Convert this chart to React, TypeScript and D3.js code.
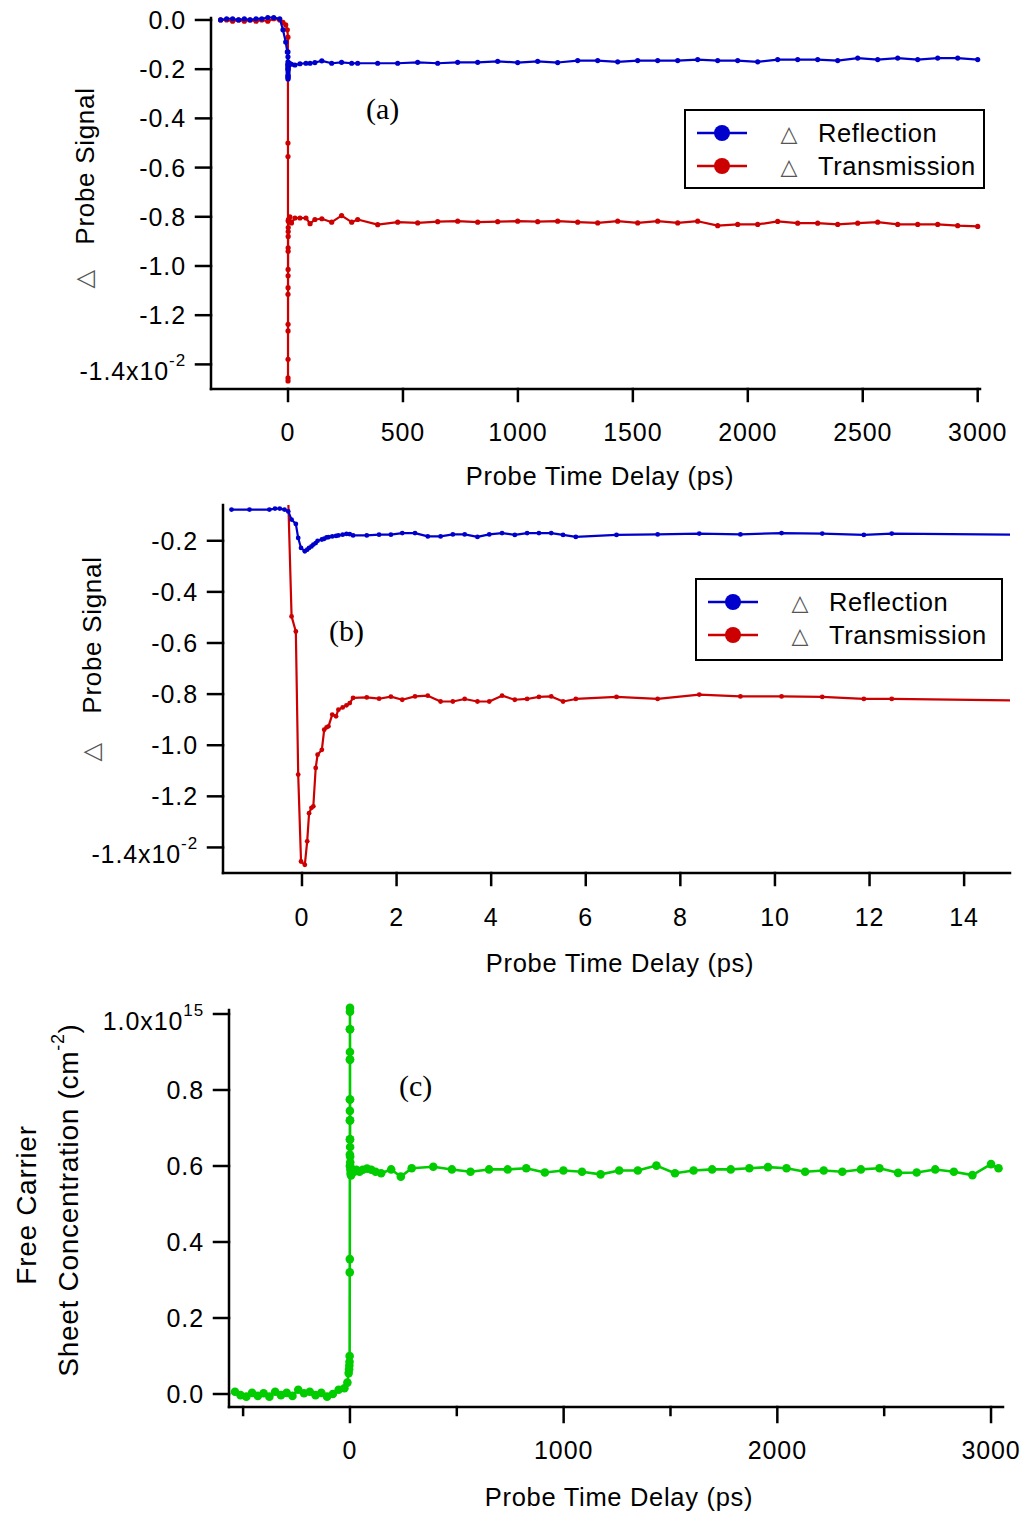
import React from "react";
import * as d3 from "d3";

// ---- shared long-delay grid (ps) (a) and (c)
const longTime = [390, 477, 564, 651, 738, 825, 912, 999, 1086, 1173, 1260, 1347, 1434, 1521, 1608, 1695, 1782, 1869, 1956, 2043, 2130, 2217, 2304, 2391, 2478, 2565, 2652, 2739, 2826, 2913, 3000];

// ---- panel (a): long scan, signal in units of 1e-2
const preTimeA = [-293, -267, -241, -215, -190, -165, -139, -114, -88, -62, -36];
const nearTimeA = [-22, -10, -3, -0.3, -0.2, -0.13, -0.08, -0.02, 0.06, 0.11, 0.15, 0.24, 0.29, 0.33, 0.42, 0.47, 0.56, 0.64, 0.77, 0.94, 1.08, 1.6, 2.4, 4, 8, 15];
const midTimeA = [30, 52, 78, 96, 117, 147, 190, 233, 277, 303];
const timeA = [...preTimeA, ...nearTimeA, ...midTimeA, ...longTime];

const reflA = [
  0.0, 0.005, 0.005, 0.0, 0.005, 0.0, 0.005, 0.005, 0.01, 0.01, 0.005,
  -0.04, -0.09, -0.13, -0.13, -0.15, -0.17, -0.2, -0.23, -0.24, -0.235, -0.228, -0.222, -0.21, -0.2, -0.195, -0.19, -0.187, -0.184, -0.18, -0.177, -0.18, -0.178, -0.175, -0.18, -0.177, -0.18,
  -0.183, -0.178, -0.176, -0.176, -0.173, -0.166, -0.176, -0.172, -0.176, -0.176,
  -0.176, -0.176, -0.172, -0.176, -0.172, -0.172, -0.168, -0.173, -0.168, -0.173, -0.165, -0.165, -0.17, -0.165, -0.165, -0.165, -0.161, -0.165, -0.165, -0.17, -0.161, -0.161, -0.161, -0.165, -0.155, -0.161, -0.155, -0.161, -0.155, -0.155, -0.161,
];
const transA = [
  0.0, 0.0, -0.005, 0.0, -0.005, 0.0, -0.005, 0.0, -0.005, 0.005, 0.0,
  -0.01, -0.02, -0.04, -0.07, -0.5, -0.555, -1.115, -1.455, -1.467, -1.379, -1.264, -1.237, -1.088, -1.04, -1.014, -0.94, -0.926, -0.88, -0.86, -0.844, -0.815, -0.818, -0.81, -0.82, -0.8, -0.825,
  -0.805, -0.805, -0.805, -0.828, -0.811, -0.808, -0.822, -0.795, -0.822, -0.811,
  -0.832, -0.822, -0.825, -0.82, -0.818, -0.822, -0.82, -0.818, -0.82, -0.818, -0.822, -0.825, -0.818, -0.825, -0.818, -0.825, -0.818, -0.836, -0.831, -0.831, -0.819, -0.826, -0.826, -0.831, -0.826, -0.822, -0.831, -0.831, -0.831, -0.836, -0.839,
];
const xTicksA = [0, 500, 1000, 1500, 2000, 2500, 3000];
const yTicksA = [0, -0.2, -0.4, -0.6, -0.8, -1.0, -1.2, -1.4];
const yLabelsA = ["0.0", "-0.2", "-0.4", "-0.6", "-0.8", "-1.0", "-1.2", "-1.4x10"];

// ---- panel (b): short scan, ps
const timeB = [-1.49, -1.11, -0.69, -0.57, -0.47, -0.37, -0.29, -0.22, -0.13, -0.08, -0.02, 0.06, 0.11, 0.15, 0.2, 0.24, 0.29, 0.33, 0.42, 0.47, 0.52, 0.56, 0.64, 0.72, 0.77, 0.86, 0.94, 1.01, 1.08, 1.37, 1.63, 1.88, 2.12, 2.39, 2.66, 2.93, 3.19, 3.44, 3.71, 3.96, 4.23, 4.5, 4.76, 5.01, 5.27, 5.52, 5.79, 6.65, 7.52, 8.4, 9.27, 10.14, 11.0, 11.88, 12.47, 15.5];
const reflB = [
  -0.078, -0.078, -0.078, -0.074, -0.074, -0.078, -0.085, -0.117, -0.134, -0.189,
  -0.228, -0.241, -0.235, -0.228, -0.222, -0.215, -0.209, -0.2, -0.195, -0.192,
  -0.187, -0.186, -0.183, -0.181, -0.179, -0.176, -0.173, -0.174, -0.179, -0.179,
  -0.176, -0.176, -0.17, -0.17, -0.183, -0.183, -0.175, -0.175, -0.185, -0.175,
  -0.17, -0.177, -0.17, -0.17, -0.17, -0.177, -0.185, -0.177, -0.175, -0.172,
  -0.175, -0.17, -0.172, -0.177, -0.172, -0.177,
];
const transB = [
  0.0, 0.0, 0.0, 0.0, 0.0, -0.01, -0.04, -0.496, -0.555, -1.115,
  -1.455, -1.468, -1.376, -1.266, -1.245, -1.239, -1.089, -1.037, -1.018, -0.939,
  -0.93, -0.926, -0.88, -0.887, -0.861, -0.852, -0.844, -0.835, -0.815, -0.813,
  -0.818, -0.81, -0.822, -0.809, -0.806, -0.829, -0.829, -0.819, -0.829, -0.829,
  -0.806, -0.822, -0.819, -0.811, -0.809, -0.829, -0.819, -0.811, -0.819, -0.802,
  -0.809, -0.809, -0.811, -0.819, -0.819, -0.826,
];
const xTicksB = [0, 2, 4, 6, 8, 10, 12, 14];
const yTicksB = [-0.2, -0.4, -0.6, -0.8, -1.0, -1.2, -1.4];
const yLabelsB = ["-0.2", "-0.4", "-0.6", "-0.8", "-1.0", "-1.2", "-1.4x10"];

// ---- panel (c): free carrier sheet concentration, units of 1e15 cm^-2
const preTimeC = [-538, -512, -485, -458, -431, -404, -377, -350, -323, -296, -269, -242, -215, -188, -161, -134, -107, -80, -53, -26];
const nearTimeC = [-12, -6, -4, -3, -2, -1.5, -1, -0.7, -0.5, -0.4, -0.3, -0.25, -0.2, -0.1, -0.05, 0, 0.05, 0.1, 0.15, 0.2, 0.3, 0.4, 0.5, 0.6, 0.8, 1.0, 1.3, 1.6, 2, 3, 5, 8, 12, 20, 30, 45, 60, 80, 100, 120];
const midTimeC = [146, 193, 238, 289];
const endTimeC = [3035];
const timeC = [...preTimeC, ...nearTimeC, ...midTimeC, ...longTime, ...endTimeC];
const carriers = [
  0.006, -0.003, -0.007, 0.003, -0.005, 0.002, -0.007, 0.006, -0.003, 0.003, -0.005, 0.011, 0.002, 0.006, -0.003, 0.003, -0.007, 0.0, 0.011, 0.015,
  0.03, 0.055, 0.065, 0.075, 0.085, 0.1, 0.32, 0.355, 0.6, 0.63, 0.67, 0.72, 0.745, 0.775, 0.88, 0.9, 0.96, 1.006, 1.016, 0.96,
  0.88, 0.775, 0.72, 0.67, 0.65, 0.625, 0.61, 0.6, 0.59, 0.58, 0.575, 0.585, 0.59, 0.585, 0.59, 0.585, 0.59, 0.593, 0.59, 0.585,
  0.581, 0.591, 0.572, 0.594,
  0.598, 0.591, 0.585, 0.591, 0.591, 0.594, 0.583, 0.588, 0.585, 0.578, 0.588, 0.588, 0.601, 0.581, 0.588, 0.591, 0.591, 0.594, 0.597, 0.594, 0.585, 0.588, 0.585, 0.591, 0.594, 0.582, 0.583, 0.591, 0.585, 0.576, 0.605,
  0.594,
];
const xTicksC = [0, 1000, 2000, 3000];
const xMinorC = [-500, 500, 1500, 2500];
const yTicksC = [1.0, 0.8, 0.6, 0.4, 0.2, 0.0];
const yLabelsC = ["1.0x10", "0.8", "0.6", "0.4", "0.2", "0.0"];

const BLUE = "#0000cc";
const RED = "#cc0000";
const GREEN = "#00cc00";
const SANS = "'Liberation Sans', Arial, Helvetica, sans-serif";
const SERIF = "'Liberation Serif', 'Times New Roman', serif";
const SYM = "'DejaVu Sans', sans-serif";

function Panel(p: any) {
  const x = d3.scaleLinear().domain(p.xDomain).range([p.left, p.right]);
  const y = d3.scaleLinear().domain(p.yDomain).range([p.bottom, p.top]);
  const line = d3
    .line<[number, number]>()
    .x((d) => x(d[0]))
    .y((d) => y(d[1]));
  const tick = 15;
  return (
    <g>
      <defs>
        <clipPath id={"clip-" + p.id}>
          <rect x={p.left} y={p.top} width={p.right - p.left} height={p.bottom - p.top} />
        </clipPath>
      </defs>
      <g clipPath={p.clip ? `url(#clip-${p.id})` : undefined}>
        {p.series.map((s: any, k: number) => {
          const pts = d3.zip(s.t, s.v) as [number, number][];
          return (
            <g key={k}>
              <path d={line(pts) || ""} fill="none" stroke={s.color} strokeWidth={s.lw} strokeLinejoin="round" />
              {pts.map((d, i) => (
                <circle key={i} cx={x(d[0])} cy={y(d[1])} r={s.r} fill={s.color} />
              ))}
            </g>
          );
        })}
      </g>
      {/* axes */}
      <g stroke="#000" strokeWidth={2.5} strokeLinecap="square">
        <line x1={p.left} y1={p.top} x2={p.left} y2={p.bottom} />
        <line x1={p.left} y1={p.bottom} x2={p.right} y2={p.bottom} />
        {p.yTicks.map((v: number) => (
          <line key={"y" + v} x1={p.left - tick} x2={p.left} y1={y(v)} y2={y(v)} />
        ))}
        {p.xTicks.map((v: number) => (
          <line key={"x" + v} x1={x(v)} x2={x(v)} y1={p.bottom} y2={p.bottom + p.xTickLen} />
        ))}
        {(p.xMinor || []).map((v: number) => (
          <line key={"m" + v} x1={x(v)} x2={x(v)} y1={p.bottom} y2={p.bottom + 8} />
        ))}
      </g>
      <g fontFamily={SANS} fontSize={25} letterSpacing={0.9} fill="#000">
        {p.yTicks.map((v: number, i: number) => {
          const isExp = i === p.expIndex;
          return (
            <text key={"yl" + v} x={p.left - tick - 10} y={y(v) + 9 + (isExp ? 7 : 0)} textAnchor="end">
              {p.yLabels[i]}
              {isExp ? (
                <tspan dy={-14} fontSize={17}>
                  {p.exp}
                </tspan>
              ) : null}
            </text>
          );
        })}
        {p.xTicks.map((v: number) => (
          <text key={"xl" + v} x={x(v)} y={p.xLabelY} textAnchor="middle">
            {String(v)}
          </text>
        ))}
        <text x={p.xTitleX} y={p.xTitleY} textAnchor="middle" fontSize={25.5} letterSpacing={0.7}>
          Probe Time Delay (ps)
        </text>
      </g>
    </g>
  );
}

function Legend({ x0, y0, w, h, rows }: any) {
  return (
    <g>
      <rect x={x0} y={y0} width={w} height={h} fill="#fff" stroke="#000" strokeWidth={2} />
      {rows.map((r: any, i: number) => {
        const cy = y0 + 23 + i * 33;
        return (
          <g key={i}>
            <line x1={x0 + 12} x2={x0 + 62} y1={cy} y2={cy} stroke={r.color} strokeWidth={2.5} />
            <circle cx={x0 + 37} cy={cy} r={8} fill={r.color} />
            <text x={x0 + 104} y={cy + 8} textAnchor="middle" fontFamily={SYM} fontSize={22} fill="#555">
              △
            </text>
            <text x={x0 + 133} y={cy + 9} fontFamily={SANS} fontSize={25.5} letterSpacing={0.6} fill="#000">
              {r.label}
            </text>
          </g>
        );
      })}
    </g>
  );
}

function YTitle({ x, y, tri }: any) {
  return (
    <g fontFamily={SANS} fontSize={26} letterSpacing={0.7} fill="#000">
      <text transform={`translate(${x},${y}) rotate(-90)`} textAnchor="middle">
        Probe Signal
      </text>
      <text transform={`translate(${x - 2},${tri}) rotate(-90)`} textAnchor="middle" fontFamily={SYM} fontSize={24} fill="#555">
        △
      </text>
    </g>
  );
}

export default function App() {
  const legendRows = [
    { color: BLUE, label: "Reflection" },
    { color: RED, label: "Transmission" },
  ];
  return (
    <svg width={1027} height={1515} style={{ position: "absolute", left: 0, top: 0, background: "#fff" }}>
      {/* (a) */}
      <Panel
        id="a"
        left={211} right={980} top={18} bottom={389}
        xDomain={[-335, 3010]} yDomain={[-1.5, 0.008]}
        xTicks={xTicksA} xTickLen={12} yTicks={yTicksA} yLabels={yLabelsA}
        expIndex={7} exp="-2"
        xLabelY={441} xTitleX={600} xTitleY={485}
        series={[
          { t: timeA, v: transA, color: RED, r: 2.6, lw: 2.2 },
          { t: timeA, v: reflA, color: BLUE, r: 2.6, lw: 2.2 },
        ]}
      />
      <YTitle x={94} y={166} tri={279} />
      <text x={366} y={119} fontFamily={SERIF} fontSize={30}>(a)</text>
      <Legend x0={685} y0={110} w={299} h={78} rows={legendRows} />

      {/* (b) */}
      <Panel
        id="b" clip
        left={223} right={1010} top={505} bottom={873}
        xDomain={[-1.67, 14.97]} yDomain={[-1.5, -0.06]}
        xTicks={xTicksB} xTickLen={12} yTicks={yTicksB} yLabels={yLabelsB}
        expIndex={6} exp="-2"
        xLabelY={926} xTitleX={620} xTitleY={972}
        series={[
          { t: timeB, v: transB, color: RED, r: 2.4, lw: 2.2 },
          { t: timeB, v: reflB, color: BLUE, r: 2.4, lw: 2.2 },
        ]}
      />
      <YTitle x={101} y={635} tri={752} />
      <text x={329} y={641} fontFamily={SERIF} fontSize={30}>(b)</text>
      <Legend x0={696} y0={579} w={306} h={81} rows={legendRows} />

      {/* (c) */}
      <Panel
        id="c"
        left={229} right={1003} top={1010} bottom={1407}
        xDomain={[-566, 3056]} yDomain={[-0.0342, 1.0105]}
        xTicks={xTicksC} xMinor={xMinorC} xTickLen={15} yTicks={yTicksC} yLabels={yLabelsC}
        expIndex={0} exp="15"
        xLabelY={1459} xTitleX={619} xTitleY={1506}
        series={[{ t: timeC, v: carriers, color: GREEN, r: 4.3, lw: 2.6 }]}
      />
      <g fontFamily={SANS} fontSize={28} letterSpacing={0.7} fill="#000">
        <text transform="translate(36,1205) rotate(-90)" textAnchor="middle">
          Free Carrier
        </text>
        <text transform="translate(78,1200) rotate(-90)" textAnchor="middle">
          Sheet Concentration (cm
          <tspan dy={-14} fontSize={18}>-2</tspan>
          <tspan dy={14}>)</tspan>
        </text>
      </g>
      <text x={399} y={1096} fontFamily={SERIF} fontSize={30}>(c)</text>
    </svg>
  );
}
